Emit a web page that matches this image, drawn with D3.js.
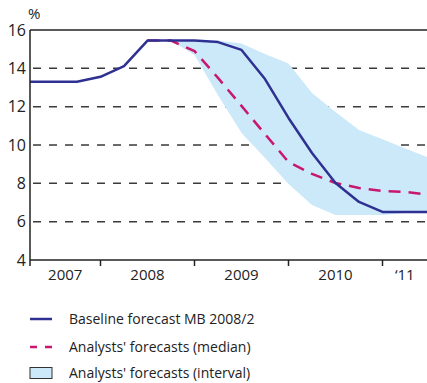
<!DOCTYPE html>
<html><head><meta charset="utf-8">
<script src="https://cdn.jsdelivr.net/npm/d3@7"></script>
<style>body{margin:0;background:#fff}svg{display:block}text{font-family:"Open Sans","Noto Sans",sans-serif;fill:#222}</style>
</head><body><div id="c"></div>
<script>
// quarterly points, index 0 = 2007 Q2 ...
const quarters = d3.range(18);
const baseline = [13.3,13.3,13.3,13.56,14.12,15.45,15.45,15.45,15.37,14.96,13.44,11.41,9.58,8.02,7.03,6.51,6.51,6.51];
const medianStart = 5;
const median = [15.45,15.45,14.9,13.5,12.04,10.57,9.11,8.49,8.02,7.76,7.6,7.55,7.39];
const bandStart = 6;
const bandUpper = [15.45,15.45,15.45,15.3,14.75,14.25,12.71,11.72,10.78,10.3,9.8,9.32];
const bandLower = [15.45,14.7,12.6,10.63,9.32,7.97,6.87,6.35,6.35,6.35,6.45,6.45];
const yTicks = [4,6,8,10,12,14,16];
const gridValues = [6,8,10,12,14];
const yearLabels = ["2007","2008","2009","2010","\u201811"];
const yearBounds = [0,3,7,11,15];
const legendLabels = ["Baseline forecast MB 2008/2","Analysts' forecasts (median)","Analysts' forecasts (interval)"];

const W=427,H=383, L=30, T=30, B=260;
const svg=d3.select("#c").append("svg").attr("width",W).attr("height",H);
const x=d3.scaleLinear().domain([0,17]).range([L,L+17*23.5]);
const y=d3.scaleLinear().domain([4,16]).range([B,T]);
const xEnd=W;

svg.append("clipPath").attr("id","clip").append("rect").attr("x",L).attr("y",0).attr("width",xEnd-L).attr("height",H);
const g=svg.append("g").attr("clip-path","url(#clip)");

g.selectAll(".grid").data(gridValues).join("line")
 .attr("x1",L+3).attr("x2",xEnd).attr("y1",d=>y(d)).attr("y2",d=>y(d))
 .attr("stroke","#3a3a3a").attr("stroke-width",1.5).attr("stroke-dasharray","8,8");

const bandData=bandUpper.map((u,i)=>({i:i+bandStart,u,l:bandLower[i]}));
g.append("path").datum(bandData)
 .attr("d",d3.area().x(d=>x(d.i)).y0(d=>y(d.l)).y1(d=>y(d.u)))
 .attr("fill","#cce9f9");

g.append("path").datum(median.map((v,i)=>({i:i+medianStart,v})))
 .attr("d",d3.line().x(d=>x(d.i)).y(d=>y(d.v)))
 .attr("fill","none").attr("stroke","#c8176f").attr("stroke-width",2.5).attr("stroke-dasharray","12,8");

g.append("path").datum(baseline.map((v,i)=>({i,v})))
 .attr("d",d3.line().x(d=>x(d.i)).y(d=>y(d.v)))
 .attr("fill","none").attr("stroke","#2e3192").attr("stroke-width",2.5).attr("stroke-linejoin","round");

svg.append("line").attr("x1",L).attr("x2",xEnd).attr("y1",T).attr("y2",T).attr("stroke","#222").attr("stroke-width",1.5);
svg.append("line").attr("x1",L).attr("x2",xEnd).attr("y1",B).attr("y2",B).attr("stroke","#222").attr("stroke-width",1.5);
svg.append("line").attr("x1",L).attr("x2",L).attr("y1",T).attr("y2",B+6).attr("stroke","#222").attr("stroke-width",1.5);

svg.selectAll(".yl").data(yTicks).join("text")
 .attr("x",L-4).attr("y",d=>y(d)+5.5).attr("text-anchor","end").attr("font-size",16).text(d=>d);
svg.append("text").attr("x",L-2).attr("y",19).attr("font-size",15).text("%");

svg.selectAll(".xt").data(yearBounds.slice(1)).join("line")
 .attr("x1",d=>x(d)).attr("x2",d=>x(d)).attr("y1",B).attr("y2",B+6)
 .attr("stroke","#222").attr("stroke-width",1.5);
svg.selectAll(".xl").data(yearLabels).join("text")
 .attr("x",(d,i)=>{const a=x(yearBounds[i]);const b=i+1<yearBounds.length?x(yearBounds[i+1]):xEnd;return (a+b)/2;})
 .attr("y",B+20).attr("text-anchor","middle").attr("font-size",15).text(d=>d);

const ly=[319,347,373];
svg.append("line").attr("x1",30).attr("x2",52).attr("y1",ly[0]).attr("y2",ly[0]).attr("stroke","#2e3192").attr("stroke-width",2.5);
svg.append("line").attr("x1",30).attr("x2",52).attr("y1",ly[1]).attr("y2",ly[1]).attr("stroke","#c8176f").attr("stroke-width",2.5).attr("stroke-dasharray","7,8");
svg.append("rect").attr("x",30).attr("y",ly[2]-5.5).attr("width",22).attr("height",11).attr("fill","#cce9f9").attr("stroke","#333").attr("stroke-width",1);
svg.selectAll(".lt").data(legendLabels).join("text")
 .attr("x",69).attr("y",(d,i)=>ly[i]+5).attr("font-size",14).text(d=>d);
</script></body></html>
